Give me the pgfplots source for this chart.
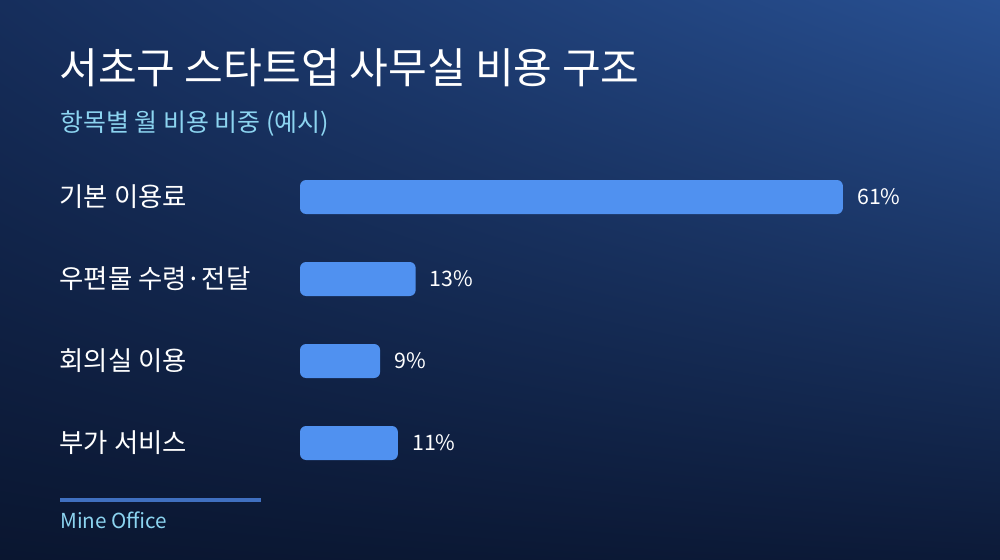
\documentclass[border=0pt]{standalone}
\usepackage{pgfplots}
\pgfplotsset{compat=1.18}
\usetikzlibrary{shadings}
\usepackage{fontspec}
\setmainfont{Noto Sans CJK KR}

\definecolor{bgTL}{RGB}{22,46,92}
\definecolor{bgTR}{RGB}{40,80,146}
\definecolor{bgBL}{RGB}{10,22,48}
\definecolor{bgBR}{RGB}{12,26,56}
\definecolor{barblue}{RGB}{80,145,240}
\definecolor{subcyan}{RGB}{140,212,240}
\definecolor{rulecol}{RGB}{64,112,192}

\begin{document}
\begin{tikzpicture}
% background and text, in pixel units (origin top left)
\begin{scope}[x=0.75pt,y=-0.75pt,shift={(0,420pt)}]
  \shade[upper left=bgTL,upper right=bgTR,lower left=bgBL,lower right=bgBR]
    (0,0) rectangle (1000,560);
  \node[anchor=base west,inner sep=0,text=white,font=\fontsize{31.6pt}{36pt}\selectfont]
    at (59,84) {서초구 스타트업 사무실 비용 구조};
  \node[anchor=base west,inner sep=0,text=subcyan,font=\fontsize{18.7pt}{22pt}\selectfont]
    at (60,132) {항목별 월 비용 비중 (예시)};
  \draw[rulecol,line width=2.5pt] (60,500) -- (261,500);
  \node[anchor=base west,inner sep=0,text=subcyan,font=\fontsize{15.5pt}{18pt}\selectfont]
    at (60,529) {Mine Office};
\end{scope}

\begin{axis}[
    at={(225pt,57pt)}, anchor=south west,
    scale only axis,
    width=467.25pt, height=246pt,
    xmin=0, xmax=70,
    ymin=-0.5, ymax=3.5,
    y dir=reverse,
    xbar,
    bar width=25.5pt,
    axis line style={draw=none},
    tick style={draw=none},
    xtick=\empty,
    ytick={0,1,2,3},
    yticklabels={기본 이용료, 우편물 수령·전달, 회의실 이용, 부가 서비스},
    yticklabel style={anchor=west,inner sep=0,xshift=-176.25pt,text=white,
      font=\fontsize{19.8pt}{24pt}\selectfont},
    nodes near coords={\pgfmathprintnumber{\pgfplotspointmeta}\%},
    nodes near coords style={anchor=west,inner sep=0,xshift=10.5pt,text=white,
      font=\fontsize{16pt}{20pt}\selectfont},
    /pgf/number format/assume math mode=true,
]
\addplot[fill=barblue,draw=none,rounded corners=4.5pt] coordinates {
    (61,0) (13,1) (9,2) (11,3)
};
\end{axis}
\end{tikzpicture}
\end{document}
